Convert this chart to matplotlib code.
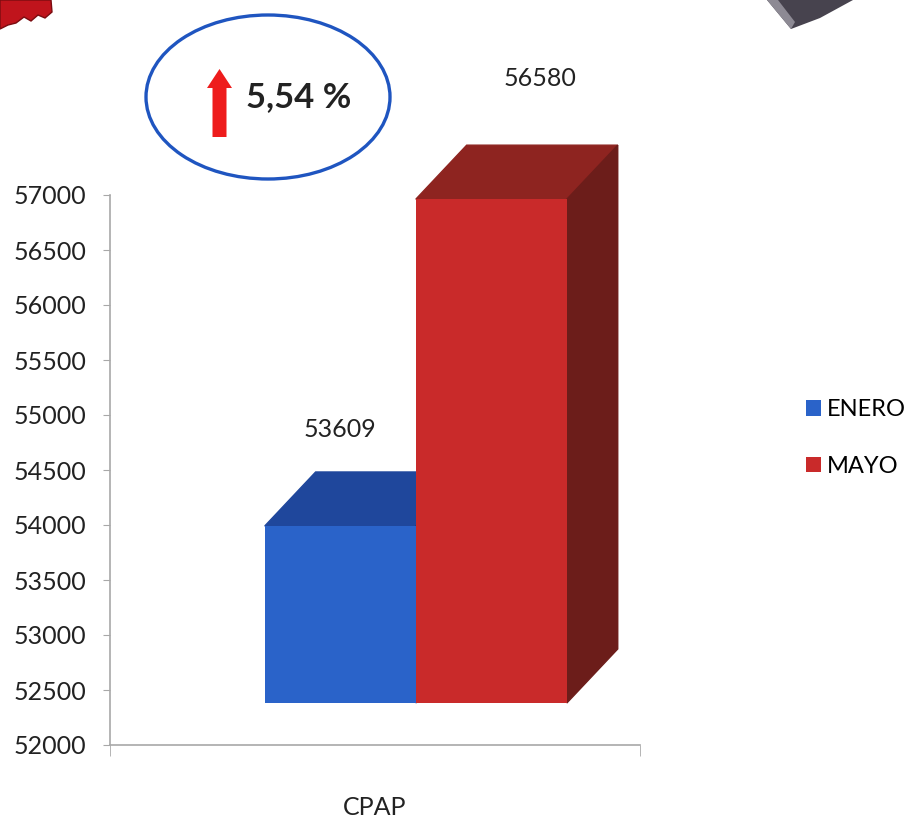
import matplotlib.pyplot as plt
from matplotlib.patches import Polygon, Ellipse, FancyArrow

plt.rcParams['font.family'] = ['Lato', 'DejaVu Sans']

categories = ['CPAP']
series = ['ENERO', 'MAYO']
values = [53609, 56580]
change_text = '5,54 %'

front_colors = ['#2a63c9', '#c92a2a']
top_colors = ['#1f479c', '#8e2420']
side_colors = ['#1a3a80', '#6c1d1a']

# fake 3D look: floor lift and depth of each box
floor = 382
depth_x = 0.096
depth_y = 491
bar_w = 0.285
group_shift = 0.077
label_offsets = [(0, 42), (-2, 67)]

fig = plt.figure(figsize=(9.1, 8.25), dpi=100)
ax = fig.add_axes([110 / 910, 80 / 825, 530 / 910, 550 / 825])
ax.set_xlim(0, 1)
ax.set_ylim(52000, 57000)

cat_x = 0.5
bars = []
for i, (name, v) in enumerate(zip(series, values)):
    xc = cat_x + group_shift + (i - 0.5) * bar_w
    x0, x1 = xc - bar_w / 2, xc + bar_w / 2
    base = 52000 + floor
    top = v + floor
    b = ax.bar(xc, top - base, bottom=base, width=bar_w, color=front_colors[i],
               label=name, zorder=3 + 2 * i, clip_on=False)
    bars.append(b)
    ax.add_patch(Polygon([(x0, top), (x1, top), (x1 + depth_x, top + depth_y),
                          (x0 + depth_x, top + depth_y)], closed=True,
                         color=top_colors[i], zorder=2 + 2 * i, clip_on=False))
    ax.add_patch(Polygon([(x1, base), (x1 + depth_x, base + depth_y),
                          (x1 + depth_x, top + depth_y), (x1, top)], closed=True,
                         color=side_colors[i], zorder=2 + 2 * i, clip_on=False))
    lx = xc if i == 0 else xc + depth_x
    ax.annotate(str(v), xy=(lx, top + depth_y), xytext=label_offsets[i],
                textcoords='offset pixels', ha='center', va='center',
                fontsize=18, color='#222222', annotation_clip=False)

ax.set_yticks(range(52000, 57001, 500))
ax.tick_params(axis='y', direction='out', length=5, color='#a8a8a8',
               labelsize=18, labelcolor='#222222', pad=12)
ax.set_xticks([cat_x])
ax.set_xticklabels(categories)
ax.tick_params(axis='x', length=0, labelsize=18, labelcolor='#222222', pad=37)
ax.set_xticks([0, 1], minor=True)
ax.tick_params(axis='x', which='minor', direction='out', length=8, color='#a8a8a8')
for s in ['top', 'right']:
    ax.spines[s].set_visible(False)
for s in ['left', 'bottom']:
    ax.spines[s].set_color('#a8a8a8')
    ax.spines[s].set_linewidth(1.2)

fig.legend(handles=[b[0] for b in bars], labels=series, loc='center left',
           bbox_to_anchor=(806 / 910, 1 - 438 / 825), frameon=False,
           borderpad=0, borderaxespad=0,
           fontsize=17, handlelength=0.62, handleheight=0.62, handletextpad=0.25,
           labelspacing=1.5)

# overlay in pixel coordinates for the callout and the clipped pictures at the top
ov = fig.add_axes([0, 0, 1, 1], zorder=10)
ov.set_xlim(0, 910)
ov.set_ylim(825, 0)
ov.axis('off')
ov.add_patch(Ellipse((268, 97), 244, 164, fill=False, ec='#1f55c0', lw=2.4))
ov.add_patch(FancyArrow(219.5, 137, 0, -49, width=14, head_width=25, head_length=19,
                        length_includes_head=False, color='#ee1c1c', lw=0))
ov.text(299, 97, change_text, ha='center', va='center', fontsize=25,
        fontweight='bold', color='#222222')
ov.add_patch(Polygon([(0, 0), (51, 0), (52, 12), (45, 18), (38, 15), (31, 21),
                      (24, 17), (16, 23), (8, 25), (0, 29)], closed=True,
                     color='#c0141c', ec='#7a0c10', lw=1))
ov.add_patch(Polygon([(767, 0), (853, 0), (820, 18), (791, 29)], closed=True,
                     color='#47434e', lw=0))
ov.add_patch(Polygon([(767, 0), (778, 0), (795, 22), (791, 29)], closed=True,
                     color='#8d8a94', lw=0))

fig.savefig('out.png', dpi=100)
